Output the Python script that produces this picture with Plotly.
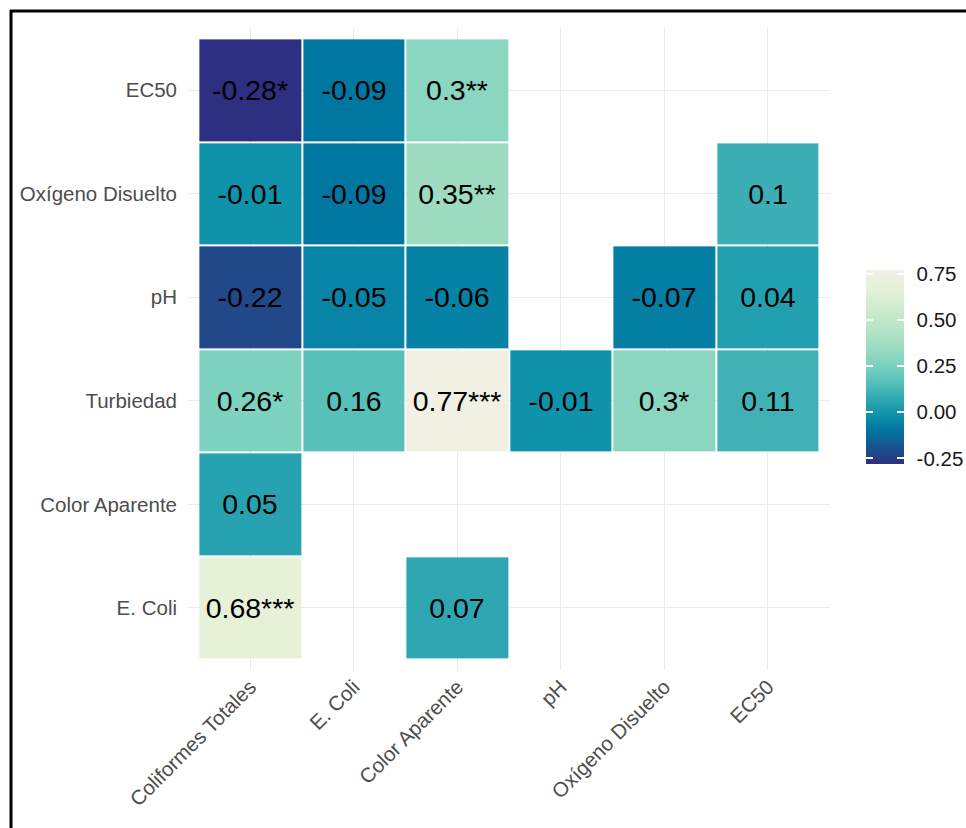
import plotly.graph_objects as go

# Variables on each axis (x: left to right, y: bottom to top)
x_vars = ["Coliformes Totales", "E. Coli", "Color Aparente", "pH", "Oxígeno Disuelto", "EC50"]
y_vars = ["E. Coli", "Color Aparente", "Turbiedad", "pH", "Oxígeno Disuelto", "EC50"]

# Correlation coefficients per row (None = pair not shown)
r_ecoli = [0.68, None, 0.07, None, None, None]
r_color = [0.05, None, None, None, None, None]
r_turb = [0.26, 0.16, 0.77, -0.01, 0.30, 0.11]
r_ph = [-0.22, -0.05, -0.06, None, -0.07, 0.04]
r_oxig = [-0.01, -0.09, 0.35, None, None, 0.10]
r_ec50 = [-0.28, -0.09, 0.30, None, None, None]

# Significance stars per row
s_ecoli = ["***", "", "", "", "", ""]
s_color = ["", "", "", "", "", ""]
s_turb = ["*", "", "***", "", "*", ""]
s_ph = ["", "", "", "", "", ""]
s_oxig = ["", "", "**", "", "", ""]
s_ec50 = ["*", "", "**", "", "", ""]

# Colorbar tick values
cbar_ticks = [-0.25, 0.0, 0.25, 0.5, 0.75]

z = [r_ecoli, r_color, r_turb, r_ph, r_oxig, r_ec50]
stars = [s_ecoli, s_color, s_turb, s_ph, s_oxig, s_ec50]


def fmt(v, s):
    if v is None:
        return ""
    return f"{round(v, 2):g}" + s


labels = [[fmt(v, s) for v, s in zip(row, srow)] for row, srow in zip(z, stars)]

zmin, zmax = -0.28, 0.77

# Blue-teal-cream gradient
palette = [
    [0.000, "#2d2f80"],
    [0.057, "#214888"],
    [0.181, "#0077a0"],
    [0.257, "#0f93ab"],
    [0.362, "#3bafb5"],
    [0.419, "#57c0b9"],
    [0.514, "#7dd2c0"],
    [0.600, "#9ddcc1"],
    [0.743, "#c3e8c9"],
    [0.914, "#e6f1d8"],
    [1.000, "#f2efe3"],
]
clear = [[0, "rgba(0,0,0,0)"], [1, "rgba(0,0,0,0)"]]

FONT = "Liberation Sans, Arial, sans-serif"

# Plot area geometry in pixels
L, T, PW, PH = 188, 28, 642, 642
CB_LEFT, CB_TOP, CB_LEN, CB_THICK = 866, 270, 194, 38
TICK = 7


def px(xp):
    return (xp - L) / PW


def py(yp):
    return (T + PH - yp) / PH


xs = list(range(len(x_vars)))
ys = list(range(len(y_vars)))


def cbar(thickness, **kw):
    base = dict(
        title=dict(text=""),
        x=px(CB_LEFT),
        xanchor="left",
        y=py(CB_TOP + CB_LEN / 2),
        yanchor="middle",
        len=CB_LEN,
        lenmode="pixels",
        thickness=thickness,
        outlinewidth=0,
        tickvals=cbar_ticks,
        xpad=0,
        ypad=0,
    )
    base.update(kw)
    return base


fig = go.Figure()

# Correlation tiles with their legend bar and labels
fig.add_trace(
    go.Heatmap(
        x=xs,
        y=ys,
        z=z,
        text=labels,
        texttemplate="%{text}",
        textfont=dict(family=FONT, size=28.5, color="black"),
        colorscale=palette,
        zmin=zmin,
        zmax=zmax,
        xgap=2,
        ygap=2,
        hoverongaps=False,
        colorbar=cbar(
            CB_THICK,
            ticktext=[f"{v:.2f}" for v in cbar_ticks],
            ticks="outside",
            ticklen=9,
            tickcolor="rgba(0,0,0,0)",
            tickfont=dict(family=FONT, size=20.5, color="#1a1a1a"),
        ),
    )
)

# White tick marks on the right and left edges of the legend bar
for thick in (CB_THICK, TICK):
    fig.add_trace(
        go.Heatmap(
            x=xs,
            y=ys,
            z=z,
            colorscale=clear,
            zmin=zmin,
            zmax=zmax,
            hoverinfo="skip",
            colorbar=cbar(
                thick,
                showticklabels=False,
                ticks="inside",
                ticklen=TICK,
                tickwidth=1.5,
                tickcolor="white",
            ),
        )
    )

grid = "#ebebeb"
fig.update_xaxes(
    range=[-0.6, 5.6],
    tickvals=xs,
    ticktext=x_vars,
    tickangle=-45,
    showgrid=True,
    gridcolor=grid,
    gridwidth=1,
    zeroline=False,
    showline=False,
    ticks="",
    tickfont=dict(family=FONT, size=20.5, color="#4d4d4d"),
)
fig.update_yaxes(
    range=[-0.6, 5.6],
    tickvals=ys,
    ticktext=y_vars,
    showgrid=True,
    gridcolor=grid,
    gridwidth=1,
    zeroline=False,
    showline=False,
    ticks="",
    ticklabelstandoff=10,
    tickfont=dict(family=FONT, size=20.5, color="#4d4d4d"),
)

# Black frame around the figure (top and left edges)
fig.add_shape(
    type="line",
    xref="paper",
    yref="paper",
    x0=px(11), x1=px(11), y0=py(828), y1=py(10),
    line=dict(color="black", width=3),
)
fig.add_shape(
    type="line",
    xref="paper",
    yref="paper",
    x0=px(10), x1=px(966), y0=py(11), y1=py(11),
    line=dict(color="black", width=3),
)

fig.update_layout(
    width=966,
    height=828,
    margin=dict(l=L, r=966 - L - PW, t=T, b=828 - T - PH, autoexpand=False),
    plot_bgcolor="white",
    paper_bgcolor="white",
    font=dict(family=FONT),
    showlegend=False,
)

fig.write_html("out.html")
